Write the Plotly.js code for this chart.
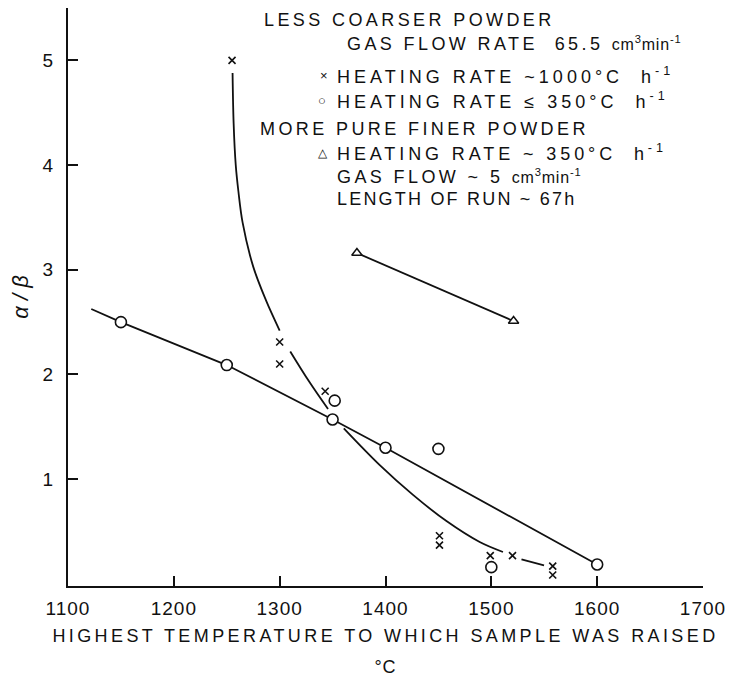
<!DOCTYPE html>
<html>
<head>
<meta charset="utf-8">
<script src="https://cdn.plot.ly/plotly-3.0.1.min.js"></script>
<style>
  html, body { margin: 0; padding: 0; background: #fff; }
  #chart { width: 731px; height: 677px; }
  .xtick text, .ytick text { letter-spacing: 1px; }
</style>
</head>
<body>
<div id="chart"></div>
<script>
// ---- Data ----
// Less coarser powder, heating rate ~1000 C/h (crosses)
const crossT = [1255, 1300, 1300, 1343, 1451, 1451, 1499, 1520, 1558, 1558];
const crossR = [5.0, 2.31, 2.10, 1.84, 0.46, 0.37, 0.27, 0.27, 0.17, 0.085];
// Less coarser powder, heating rate <= 350 C/h (circles)
const circT = [1150, 1250, 1350, 1352, 1400, 1450, 1500, 1600];
const circR = [2.50, 2.09, 1.57, 1.75, 1.30, 1.29, 0.16, 0.185];
// More pure finer powder (triangles)
const triT = [1373, 1521];
const triR = [3.16, 2.51];
// Hand-drawn fitted line through the circles
const circFitT = [1122, 1150, 1250, 1350, 1400, 1600];
const circFitR = [2.625, 2.50, 2.09, 1.57, 1.30, 0.185];
// Hand-drawn curve through the crosses (null = pen lifted at the markers)
const crossFitT = [1255.5, 1256.5, 1258.5, 1261, 1265, 1275, 1287, 1300, null,
                   1310, 1328, 1345.7, null,
                   1360.6, 1394.6, 1426, 1457.6, 1489, 1511, null,
                   1528.5, 1549.8];
const crossFitR = [4.88, 4.40, 4.00, 3.75, 3.45, 3.03, 2.71, 2.42, null,
                   2.22, 1.93, 1.67, null,
                   1.485, 1.134, 0.85, 0.60, 0.40, 0.305, null,
                   0.235, 0.178];
// Axis ticks and titles
const xTicks = [1100, 1200, 1300, 1400, 1500, 1600, 1700];
const yTicks = [1, 2, 3, 4, 5];
const xTitle = 'HIGHEST TEMPERATURE TO WHICH SAMPLE WAS RAISED';
const xUnit = '°C';
const yTitle = 'α / β';

// ---- Layout helpers (pixel -> paper) ----
const W = 731, H = 677;
const M = {l: 68, r: 28, t: 8, b: 91};
const pw = W - M.l - M.r, ph = H - M.t - M.b;
const px = x => (x - M.l) / pw;
const py = y => (H - M.b - y) / ph;
const FONT = 'Liberation Sans, Arial, sans-serif';
const INK = '#111';

function note(text, x, y, size, spacing) {
  const sp = spacing === undefined ? 3.4 : spacing;
  return {
    text: '<span style="letter-spacing:' + sp + 'px">' + text + '</span>',
    xref: 'paper', yref: 'paper', x: px(x), y: py(y),
    xanchor: 'left', yanchor: 'middle', showarrow: false,
    font: {family: FONT, size: size || 18, color: INK}
  };
}
const unit = '<span style="font-size:16px;letter-spacing:0.8px">cm<sup>3</sup>min<sup>-1</sup></span>';

const annotations = [
  note('LESS COARSER POWDER', 262, 20),
  note('GAS FLOW RATE  65.5 ' + unit, 345, 44),
  note('×', 318, 75, 13, 0),
  note('HEATING RATE ~1000°C  h<sup>-1</sup>', 335, 75, 18, 4.0),
  note('○', 316, 100, 13, 0),
  note('HEATING RATE ≤ 350°C  h<sup>-1</sup>', 335, 100, 18, 4.0),
  note('MORE PURE FINER POWDER', 258, 129),
  note('△', 316, 153, 12, 0),
  note('HEATING RATE ~ 350°C  h<sup>-1</sup>', 335, 153, 18, 3.9),
  note('GAS FLOW ~ 5 ' + unit, 335, 176),
  note('LENGTH OF RUN ~ 67h', 335, 199, 18, 2.2)
];

const lineStyle = {color: INK, width: 1.8};
const traces = [
  {x: circFitT, y: circFitR, mode: 'lines', line: lineStyle, hoverinfo: 'skip'},
  {x: crossFitT, y: crossFitR, mode: 'lines', line: Object.assign({shape: 'spline', smoothing: 1}, lineStyle),
   connectgaps: false, hoverinfo: 'skip'},
  {x: triT, y: triR, mode: 'lines', line: lineStyle, hoverinfo: 'skip'},
  {x: crossT, y: crossR, mode: 'markers', name: 'heating ~1000°C/h',
   marker: {symbol: 'x-thin-open', size: 7, color: INK, line: {color: INK, width: 1.6}}},
  {x: circT, y: circR, mode: 'markers', name: 'heating ≤350°C/h',
   marker: {symbol: 'circle', size: 11, color: '#fff', line: {color: INK, width: 1.6}}},
  {x: triT, y: triR, mode: 'markers', name: 'finer powder',
   marker: {symbol: 'triangle-up', size: 9, color: '#fff', line: {color: INK, width: 1.5}}}
];

const layout = {
  width: W, height: H, margin: M, showlegend: false,
  paper_bgcolor: '#fff', plot_bgcolor: '#fff',
  font: {family: FONT, color: INK},
  xaxis: {
    range: [1100, 1700], tickvals: xTicks, ticktext: xTicks.map(String),
    ticks: 'inside', ticklen: 10, tickwidth: 1.5, tickcolor: INK,
    showline: true, linecolor: INK, linewidth: 2, showgrid: false, zeroline: false,
    tickfont: {family: FONT, size: 19, color: INK}, ticklabelstandoff: 4,
    title: {
      text: '<span style="font-size:18px;letter-spacing:3.4px">' + xTitle + '</span><br>' +
            '<span style="font-size:18px;letter-spacing:1px">' + xUnit + '</span>',
      font: {family: FONT, size: 24, color: INK}, standoff: 12
    }
  },
  yaxis: {
    range: [-0.02, 5.5], tickvals: yTicks, ticktext: yTicks.map(String),
    ticks: 'inside', ticklen: 10, tickwidth: 1.5, tickcolor: INK,
    showline: true, linecolor: INK, linewidth: 2, showgrid: false, zeroline: false,
    tickfont: {family: FONT, size: 19, color: INK}, ticklabelstandoff: 8,
    title: {text: '<i>' + yTitle + '</i>', font: {family: FONT, size: 22, color: INK}, standoff: 8}
  },
  annotations: annotations
};

Plotly.newPlot('chart', traces, layout, {displayModeBar: false});
</script>
</body>
</html>
